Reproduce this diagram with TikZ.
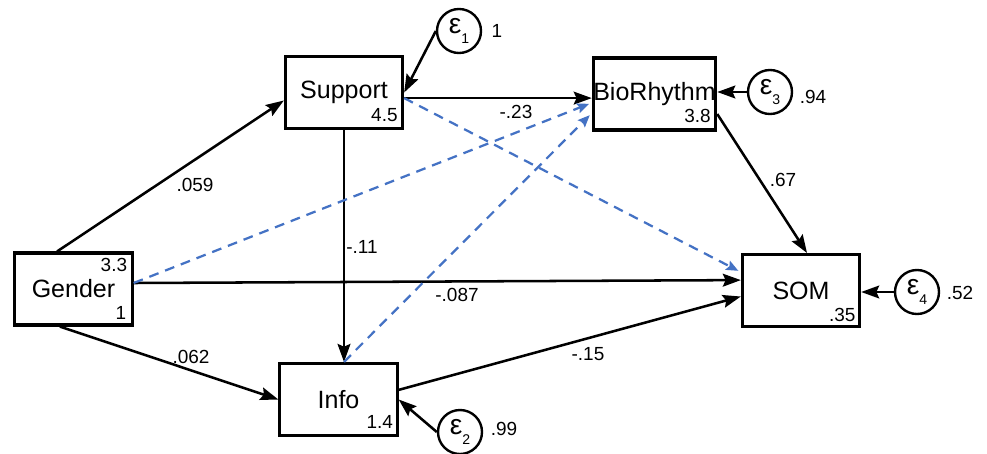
\documentclass[tikz,border=0pt]{standalone}
\usepackage{fontspec}
\setmainfont{Liberation Sans}
\usetikzlibrary{arrows.meta}
\definecolor{pathblue}{RGB}{68,114,196}
\newcommand{\errsub}[1]{\raisebox{-0.7ex}{\fontsize{10}{10}\selectfont #1}}

\begin{document}
\begin{tikzpicture}[x=0.025cm,y=-0.025cm,thick,
  var node/.style={rectangle,draw,line width=2.2pt,minimum width=2.93cm,minimum height=1.8cm,inner sep=0pt,font=\fontsize{17.8}{20}\selectfont},
  err node/.style={circle,draw,line width=1.7pt,minimum size=1.1cm,inner sep=0pt,font=\fontsize{20}{22}\selectfont},
  coef/.style={inner sep=0pt,font=\fontsize{13.5}{16}\selectfont}]
\tikzstyle{path arrow} = [draw,line width=1.8pt,-{Stealth[length=4.5mm,width=3.2mm,inset=0.7mm]}]
\tikzstyle{dashed path} = [draw,line width=1.6pt,pathblue,dash pattern=on 7pt off 5pt,shorten >=2pt,-{Stealth[length=3mm,width=2.5mm,inset=0.5mm]}]

\useasboundingbox (0,0) rectangle (987,454);

% variables
\node[var node] (support) at (344,92.5) {Support};
\node[var node] (bio) at (654.5,94) {BioRhythm};
\node[var node] (gender) at (73.5,289) {Gender};
\node[var node] (som) at (801,290.5) {SOM};
\node[var node] (info) at (338.5,399.5) {Info};

\node[coef,anchor=south east] (supportv) at ([xshift=-0.15cm,yshift=0.2cm]support.south east) {4.5};
\node[coef,anchor=south east] (biov) at ([xshift=-0.15cm,yshift=0.2cm]bio.south east) {3.8};
\node[coef,anchor=north east] (genderm) at ([xshift=-0.15cm,yshift=-0.15cm]gender.north east) {3.3};
\node[coef,anchor=south east] (genderv) at ([xshift=-0.17cm,yshift=0.15cm]gender.south east) {1};
\node[coef,anchor=south east] (somv) at ([xshift=-0.13cm,yshift=0.15cm]som.south east) {.35};
\node[coef,anchor=south east] (infov) at ([xshift=-0.13cm,yshift=0.2cm]info.south east) {1.4};

% errors
\node[err node] (e1) at (459,31) {ε\errsub{1}};
\node[err node] (e2) at (460,432) {ε\errsub{2}};
\node[err node] (e3) at (770,92) {ε\errsub{3}};
\node[err node] (e4) at (917,292) {ε\errsub{4}};

\node[coef] (e1v) at (497,31) {1};
\node[coef] (e2v) at (504,429) {.99};
\node[coef] (e3v) at (813,97) {.94};
\node[coef] (e4v) at (960,293) {.52};

\draw[path arrow] (e1.west) -- (support.east);
\draw[path arrow] (e2.west) -- (info.east);
\draw[path arrow] (e3.west) -- (e3.west -| bio.east);
\draw[path arrow] (e4.west) -- (e4.west -| som.east);

% paths
\coordinate (supportout) at ([yshift=-0.14cm]support.east);
\draw[path arrow] ([xshift=-0.41cm]gender.north) -- ([yshift=-0.2cm]support.west);
\draw[path arrow] ([xshift=-0.34cm]gender.south) -- (info.west);
\draw[path arrow] ([yshift=0.15cm]gender.east) -- ([yshift=0.26cm]som.west);
\draw[path arrow] (supportout) -- (supportout -| bio.west);
\draw[path arrow] (support.south) -- (support.south |- info.north);
\draw[path arrow] ([yshift=0.24cm]info.east) -- ([yshift=-0.15cm]som.west);
\draw[path arrow] ([yshift=-0.5cm]bio.east) -- ([xshift=0.15cm]som.north);

\node[coef] (l059) at (195,185) {.059};
\node[coef] (l062) at (191,357) {.062};
\node[coef] (l087) at (457,294.5) {-.087};
\node[coef] (l23) at (516,112) {-.23};
\node[coef] (l11) at (362,247) {-.11};
\node[coef] (l15) at (588,354) {-.15};
\node[coef] (l67) at (783,180) {.67};

% indirect paths
\draw[dashed path] ([yshift=0.15cm]gender.east) -- ([yshift=-0.22cm]bio.west);
\draw[dashed path] (support.south |- info.north) -- ([yshift=-0.48cm]bio.west);
\draw[dashed path] (supportout) -- ([yshift=0.46cm]som.west);

\end{tikzpicture}
\end{document}
